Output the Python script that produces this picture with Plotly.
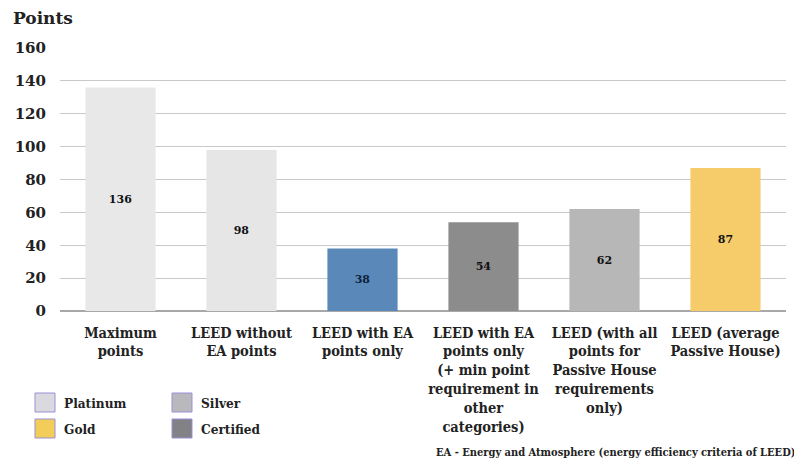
import plotly.graph_objects as go

categories = [
    "Maximum<br>points",
    "LEED without<br>EA points",
    "LEED with EA<br>points only",
    "LEED with EA<br>points only<br>(+ min point<br>requirement in<br>other<br>categories)",
    "LEED (with all<br>points for<br>Passive House<br>requirements<br>only)",
    "LEED (average<br>Passive House)",
]
values = [136, 98, 38, 54, 62, 87]
bar_colors = ["#e8e8e8", "#e6e6e6", "#5a89b9", "#8c8c8c", "#b7b7b7", "#f6cc6a"]
text_colors = ["#111111", "#111111", "#0d1f3a", "#111111", "#111111", "#111111"]
y_ticks = [0, 20, 40, 60, 80, 100, 120, 140, 160]

legend_names = ["Platinum", "Gold", "Silver", "Certified"]
legend_colors = ["#d9d9df", "#f2cd5a", "#b9b9bd", "#818186"]

FONT = "DejaVu Serif"
FONT_C = "DejaVu Serif Condensed"

# page body has an 8px margin; work in reference pixel coordinates and offset
O = 8
W, H = 802 - O, 464 - O
L = 60 - O
T = 48 - O
B = H - (311 - O)
R = W - (786 - O)
pw, ph = W - L - R, H - T - B

def px(x):
    return (x - O - L) / pw

def py(y):
    return (H - B - (y - O)) / ph

fig = go.Figure()
fig.add_trace(go.Bar(
    x=categories, y=values,
    marker=dict(color=bar_colors, line=dict(width=0)),
    text=[str(v) for v in values],
    textposition="inside", insidetextanchor="middle",
    textfont=dict(family=FONT, size=11, color=text_colors, weight="bold"),
    showlegend=False, hoverinfo="skip",
))

shapes = []
annotations = []
leg_pos = [(35, 393), (35, 419), (172, 393), (172, 419)]
for name, col, (lx, ly) in zip(legend_names, legend_colors, leg_pos):
    shapes.append(dict(type="rect", xref="paper", yref="paper",
                       x0=px(lx), x1=px(lx + 20), y0=py(ly), y1=py(ly + 19),
                       fillcolor=col, line=dict(color="#9b8fd6", width=1)))
    annotations.append(dict(xref="paper", yref="paper", x=px(lx + 27), y=py(ly + 9.5),
                            text=name, showarrow=False, xanchor="left", yanchor="middle",
                            font=dict(family=FONT_C, size=13.5, color="#222222", weight="bold")))

annotations.append(dict(xref="paper", yref="paper", x=px(11), y=py(18), text="Points",
                        showarrow=False, xanchor="left", yanchor="middle",
                        font=dict(family=FONT, size=17, color="#222222", weight="bold")))
annotations.append(dict(xref="paper", yref="paper", x=px(434), y=py(452),
                        text="EA - Energy and Atmosphere (energy efficiency criteria of LEED)",
                        showarrow=False, xanchor="left", yanchor="middle",
                        font=dict(family=FONT_C, size=11, color="#222222", weight="bold")))

fig.update_layout(
    width=W, height=H,
    margin=dict(l=L, r=R, t=T, b=B, autoexpand=False),
    paper_bgcolor="white", plot_bgcolor="white",
    bargap=0.42,
    shapes=shapes, annotations=annotations,
    font=dict(family=FONT, color="#222222"),
)
fig.update_yaxes(range=[0, 160], tickvals=y_ticks, showgrid=True, gridcolor="#c9c9c9",
                 gridwidth=1, zeroline=True, zerolinecolor="#a8a8a8", zerolinewidth=1.5,
                 tickfont=dict(family=FONT, size=15, color="#222222", weight="bold"),
                 ticklabelstandoff=13, showline=False)
fig.update_xaxes(tickfont=dict(family=FONT_C, size=14.5, color="#222222", weight="bold"),
                 showline=False, ticks="", ticklabelstandoff=11)

fig.write_html("out.html")
